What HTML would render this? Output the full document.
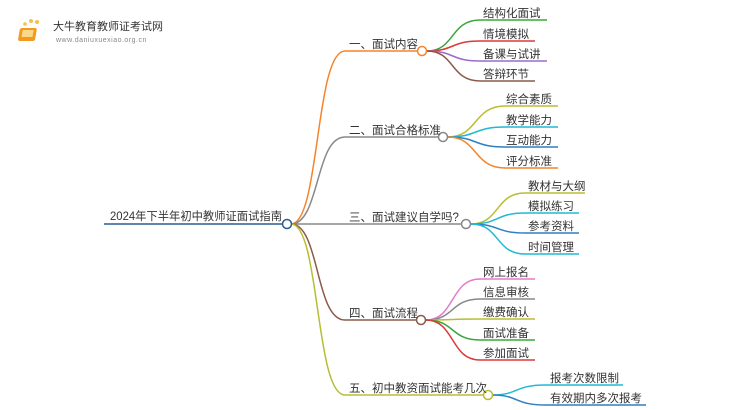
<!DOCTYPE html>
<html><head><meta charset="utf-8"><style>
html,body{margin:0;padding:0;background:#fff;width:750px;height:410px;overflow:hidden}
svg text{font-family:"Liberation Sans","Noto Sans CJK SC",sans-serif;font-size:11.5px;fill:#333}
</style></head><body>
<svg width="750" height="410" viewBox="0 0 750 410" xmlns="http://www.w3.org/2000/svg">
<g fill="#f6c04a"><circle cx="22" cy="30" r="1.5"/><circle cx="25" cy="24" r="1.8"/><circle cx="31" cy="21" r="2"/><circle cx="37" cy="22" r="2"/><circle cx="21" cy="37" r="1.3"/></g>
<rect x="25" y="28" width="17" height="13" rx="2" fill="#f39a1e" transform="skewX(-10)"/>
<rect x="28" y="30" width="11" height="7" fill="#fbd78a" transform="skewX(-10)"/>
<text x="53" y="30" style="font-size:11px;fill:#333">大牛教育教师证考试网</text>
<text x="56" y="42" style="font-size:7px;fill:#888;letter-spacing:0.5px">www.daniuxuexiao.org.cn</text>

<g fill="none" stroke-width="1.5">
<path d="M104,224 H283" stroke="#2b5d8f"/>
<path d="M291,224 C320,224 315,51 345,51 H417" stroke="#f7842b"/>
<path d="M291,224 C320,224 315,137 345,137 H438" stroke="#888"/>
<path d="M291,224 C315,224 315,224 345,224 H461" stroke="#888"/>
<path d="M291,224 C320,224 315,320 345,320 H416" stroke="#8b5a4b"/>
<path d="M291,224 C320,224 315,395 345,395 H483" stroke="#b9bd31"/>

<path d="M427,51 C455,51 450,20 480,20 H547" stroke="#3aa53a"/>
<path d="M427,51 C455,51 450,41 480,41 H535" stroke="#d93a3a"/>
<path d="M427,51 C455,51 450,61 480,61 H547" stroke="#9a6cc7"/>
<path d="M427,51 C455,51 450,81 480,81 H535" stroke="#8b5a4b"/>

<path d="M448,137 C478,137 473,106 505,106 H558" stroke="#b9bd31"/>
<path d="M448,137 C478,137 473,127 505,127 H558" stroke="#1fbad6"/>
<path d="M448,137 C478,137 473,147 505,147 H558" stroke="#2f7fc1"/>
<path d="M448,137 C478,137 473,168 505,168 H558" stroke="#f7842b"/>

<path d="M471,224 C500,224 495,193 525,193 H585" stroke="#b9bd31"/>
<path d="M471,224 C500,224 495,213 525,213 H579" stroke="#1fbad6"/>
<path d="M471,224 C500,224 495,233 525,233 H579" stroke="#2f7fc1"/>
<path d="M471,224 C500,224 495,254 525,254 H579" stroke="#1fbad6"/>

<path d="M426,320 C455,320 450,279 480,279 H535" stroke="#e57ac9"/>
<path d="M426,320 C455,320 450,299 480,299 H535" stroke="#888"/>
<path d="M426,320 C455,320 450,319 480,319 H535" stroke="#b9bd31"/>
<path d="M426,320 C455,320 450,340 480,340 H535" stroke="#3aa53a"/>
<path d="M426,320 C455,320 450,360 480,360 H535" stroke="#d93a3a"/>

<path d="M493,395 C518,395 515,385 545,385 H623" stroke="#1fbad6"/>
<path d="M493,395 C518,395 515,405 545,405 H646" stroke="#2f7fc1"/>
</g>
<g fill="#fff" stroke-width="1.5">
<circle cx="287" cy="224" r="4.5" stroke="#2b5d8f"/>
<circle cx="422" cy="51" r="4.5" stroke="#f7842b"/>
<circle cx="443" cy="137" r="4.5" stroke="#888"/>
<circle cx="466" cy="224" r="4.5" stroke="#888"/>
<circle cx="421" cy="320" r="4.5" stroke="#8b5a4b"/>
<circle cx="488" cy="395" r="4.5" stroke="#b9bd31"/>
</g>
<text x="110" y="220" textLength="172" lengthAdjust="spacingAndGlyphs">2024年下半年初中教师证面试指南</text>
<text x="349" y="48">一、面试内容</text>
<text x="349" y="134">二、面试合格标准</text>
<text x="349" y="221">三、面试建议自学吗?</text>
<text x="349" y="317">四、面试流程</text>
<text x="349" y="392">五、初中教资面试能考几次</text>
<text x="483" y="17">结构化面试</text>
<text x="483" y="38">情境模拟</text>
<text x="483" y="58">备课与试讲</text>
<text x="483" y="78">答辩环节</text>
<text x="506" y="103">综合素质</text>
<text x="506" y="124">教学能力</text>
<text x="506" y="144">互动能力</text>
<text x="506" y="165">评分标准</text>
<text x="528" y="190">教材与大纲</text>
<text x="528" y="210">模拟练习</text>
<text x="528" y="230">参考资料</text>
<text x="528" y="251">时间管理</text>
<text x="483" y="276">网上报名</text>
<text x="483" y="296">信息审核</text>
<text x="483" y="316">缴费确认</text>
<text x="483" y="337">面试准备</text>
<text x="483" y="357">参加面试</text>
<text x="550" y="382">报考次数限制</text>
<text x="550" y="402">有效期内多次报考</text>
</svg>
</body></html>
